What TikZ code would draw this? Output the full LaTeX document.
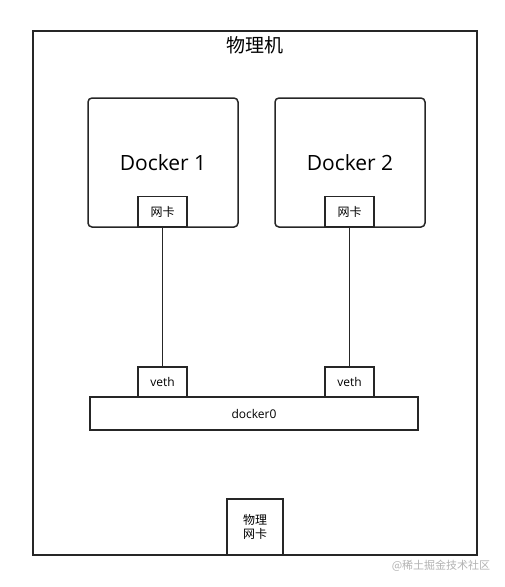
\documentclass[tikz,border=0pt]{standalone}
\usepackage{fontspec}
\setmainfont{Open Sans}
\newfontfamily\cjk{Noto Sans CJK SC}
\tikzset{
  frame/.style={draw=black!85, line width=1.8pt},
  container/.style={draw=black!85, line width=1.5pt, rounded corners=4pt, minimum width=150pt, minimum height=129pt, inner sep=0pt, font=\fontsize{21}{24}\selectfont},
  port/.style={draw=black!85, line width=1.5pt, fill=white, minimum width=49pt, minimum height=30pt, inner sep=0pt, font=\fontsize{12}{14}\selectfont},
  bridge/.style={draw=black!85, line width=1.5pt, minimum width=328pt, minimum height=33pt, inner sep=0pt, font=\fontsize{12}{14}\selectfont},
  wire/.style={draw=black!85, line width=1.7pt}
}
\begin{document}
\begin{tikzpicture}[x=1pt,y=-1pt]
		%%%%% START %%%%%
		\useasboundingbox (0,0) rectangle (505,587);
		
		\draw[frame] (33, 31) rectangle (477, 555);
		\node[font=\fontsize{19}{21}\selectfont] (host) at (255, 45) {\cjk 物理机};
		
		\node[container] (docker1) at (163, 162.5) {Docker 1};
		\node[container] (docker2) at (350, 162.5) {Docker 2};
		\node[port] (nic1) at (162.5, 211.5) {\cjk 网卡};
		\node[port] (nic2) at (349.5, 211.5) {\cjk 网卡};
		
		\node[bridge] (docker0) at (254, 413.5) {docker0};
		\node[port] (veth1) at (162.5, 382) {veth};
		\node[port] (veth2) at (349.5, 382) {veth};
		
		\draw[wire] (nic1) -- (veth1);
		\draw[wire] (nic2) -- (veth2);
		
		\node[port, minimum width=56pt, minimum height=56pt, align=center] (phys) at (255, 527) {\cjk 物理\\\cjk 网卡};
		
		\node[text=black!30, font=\fontsize{11}{12}\selectfont] (mark) at (441, 566) {\cjk @稀土掘金技术社区};
		%%%%% END %%%%%
\end{tikzpicture}
\end{document}
